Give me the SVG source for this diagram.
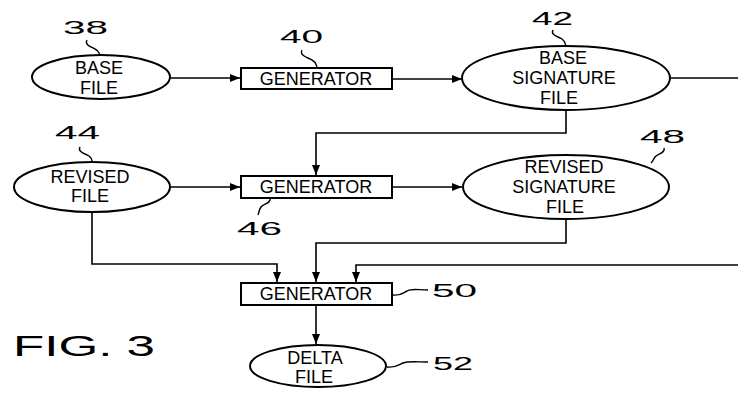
<svg xmlns="http://www.w3.org/2000/svg" width="738" height="393" viewBox="0 0 738 393">
<style>
.shape{fill:#fff;stroke:#000;stroke-width:2}
.lbl{font-family:"Liberation Sans",Arial,sans-serif;font-size:18px;text-anchor:middle;fill:#000}
.num{font-family:"Liberation Sans",Arial,sans-serif;font-size:19px;fill:#000}
.fig{font-family:"Liberation Sans",Arial,sans-serif;font-size:29px;fill:#000}
.con{fill:none;stroke:#000;stroke-width:1.6}
.sq{fill:none;stroke:#000;stroke-width:1.4}
</style>
<defs>
<marker id="ah" markerUnits="userSpaceOnUse" markerWidth="10" markerHeight="8" refX="10" refY="4" orient="auto">
<path d="M0,0 L10,4 L0,8 z" fill="#000"/>
</marker>
</defs>
<g id="connectors">
<path class="con" d="M170,78 H240" marker-end="url(#ah)"/>
<path class="con" d="M392,79 H462" marker-end="url(#ah)"/>
<path class="con" d="M670,78 H738"/>
<path class="con" d="M566,110 V133 H316 V175" marker-end="url(#ah)"/>
<path class="con" d="M170,187 H240" marker-end="url(#ah)"/>
<path class="con" d="M392,187 H462" marker-end="url(#ah)"/>
<path class="con" d="M566,219 V243 H316 V282" marker-end="url(#ah)"/>
<path class="con" d="M92,212 V264 H277 V282" marker-end="url(#ah)"/>
<path class="con" d="M738,265 H356 V282" marker-end="url(#ah)"/>
<path class="con" d="M316,305 V344" marker-end="url(#ah)"/>
</g>
<g id="n38">
<ellipse class="shape" cx="101" cy="77" rx="69" ry="22"/>
<text class="lbl" x="99" y="74">BASE</text>
<text class="lbl" x="99" y="94">FILE</text>
<text class="num" x="63" y="34" textLength="45" lengthAdjust="spacingAndGlyphs">38</text>
<path class="sq" d="M87,40 C84,45 92,47 95,49 C99,51 99,53 100,55"/>
</g>
<g id="n40">
<rect class="shape" x="241" y="68" width="151" height="21"/>
<text class="lbl" x="316" y="85">GENERATOR</text>
<text class="num" x="280" y="43" textLength="43" lengthAdjust="spacingAndGlyphs">40</text>
<path class="sq" d="M302,50 C299,56 309,58 312,60 C316,62 316,64 317,67"/>
</g>
<g id="n42">
<ellipse class="shape" cx="566" cy="78" rx="104" ry="32"/>
<text class="lbl" x="563" y="64">BASE</text>
<text class="lbl" x="564" y="84">SIGNATURE</text>
<text class="lbl" x="559" y="104">FILE</text>
<text class="num" x="532" y="25" textLength="41" lengthAdjust="spacingAndGlyphs">42</text>
<path class="sq" d="M553,30 C550,35 559,37 562,39 C565,41 565,43 566,46"/>
</g>
<g id="n44">
<ellipse class="shape" cx="92" cy="187" rx="78" ry="25"/>
<text class="lbl" x="90" y="183">REVISED</text>
<text class="lbl" x="90" y="202">FILE</text>
<text class="num" x="55" y="139" textLength="45" lengthAdjust="spacingAndGlyphs">44</text>
<path class="sq" d="M80,147 C77,152 86,154 89,156 C92,158 92,160 92,162"/>
</g>
<g id="n46">
<rect class="shape" x="241" y="176" width="151" height="22"/>
<text class="lbl" x="316" y="193">GENERATOR</text>
<text class="num" x="237" y="235" textLength="45" lengthAdjust="spacingAndGlyphs">46</text>
<path class="sq" d="M270,198 C272,203 263,204 261,207 C259,210 259,212 258,215"/>
</g>
<g id="n48">
<ellipse class="shape" cx="566" cy="187" rx="103" ry="32"/>
<text class="lbl" x="564" y="173">REVISED</text>
<text class="lbl" x="564" y="193">SIGNATURE</text>
<text class="lbl" x="565" y="213">FILE</text>
<text class="num" x="640" y="143" textLength="45" lengthAdjust="spacingAndGlyphs">48</text>
<path class="sq" d="M664,148 C666,153 657,154 655,157 C653,160 653,161 651,163"/>
</g>
<g id="n50">
<rect class="shape" x="241" y="283" width="151" height="22"/>
<text class="lbl" x="316" y="300">GENERATOR</text>
<text class="num" x="432" y="297" textLength="45" lengthAdjust="spacingAndGlyphs">50</text>
<path class="sq" d="M393,295 C400,296 403,293 407,291 C412,288 418,290 428,290"/>
</g>
<g id="n52">
<ellipse class="shape" cx="318" cy="366" rx="68" ry="21"/>
<text class="lbl" x="315" y="364">DELTA</text>
<text class="lbl" x="314" y="383">FILE</text>
<text class="num" x="433" y="370" textLength="40" lengthAdjust="spacingAndGlyphs">52</text>
<path class="sq" d="M387,367 C395,368 399,365 403,363 C408,361 416,362 428,362"/>
</g>
<text class="fig" x="13" y="356" textLength="142" lengthAdjust="spacingAndGlyphs">FIG. 3</text>
</svg>
